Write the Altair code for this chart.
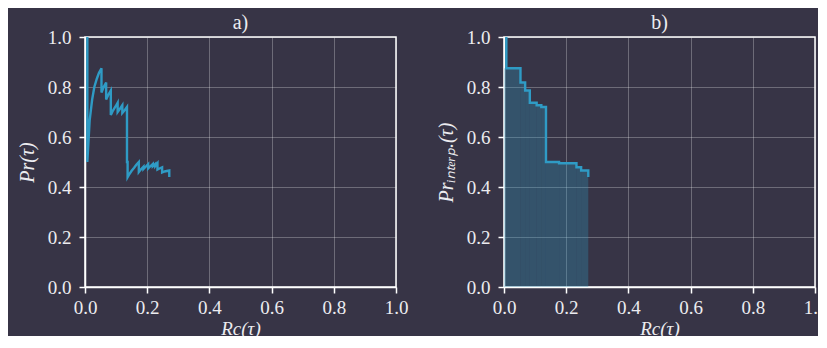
import altair as alt
import pandas as pd

# Raw precision/recall curve (panel a)
recall_raw = [0.0075, 0.0075, 0.015, 0.023, 0.030, 0.038, 0.045, 0.053, 0.053, 0.060,
              0.068, 0.068, 0.075, 0.083, 0.083, 0.083, 0.090, 0.098, 0.105, 0.105,
              0.113, 0.120, 0.120, 0.128, 0.135, 0.135, 0.137, 0.137, 0.143, 0.150,
              0.158, 0.165, 0.173, 0.173, 0.180, 0.188, 0.188, 0.195, 0.203, 0.203,
              0.210, 0.218, 0.218, 0.226, 0.226, 0.233, 0.233, 0.241, 0.248, 0.248,
              0.256, 0.263, 0.271, 0.271]
precision_raw = [1.000, 0.500, 0.667, 0.750, 0.800, 0.833, 0.857, 0.875, 0.778, 0.800,
                 0.818, 0.750, 0.769, 0.786, 0.733, 0.688, 0.706, 0.722, 0.737, 0.700,
                 0.714, 0.727, 0.696, 0.708, 0.720, 0.500, 0.500, 0.439, 0.452, 0.465,
                 0.477, 0.489, 0.500, 0.460, 0.471, 0.481, 0.472, 0.481, 0.491, 0.474,
                 0.483, 0.492, 0.483, 0.492, 0.484, 0.495, 0.470, 0.475, 0.479, 0.458,
                 0.462, 0.464, 0.466, 0.440]

# Interpolated precision (panel b)
recall_interp = [0.0075, 0.0075, 0.053, 0.053, 0.068, 0.068, 0.083, 0.083, 0.105, 0.105,
                 0.120, 0.120, 0.135, 0.135, 0.177, 0.177, 0.233, 0.233, 0.248, 0.248,
                 0.271, 0.271]
precision_interp = [1.000, 0.875, 0.875, 0.818, 0.818, 0.786, 0.786, 0.737, 0.737, 0.727,
                    0.727, 0.720, 0.720, 0.500, 0.500, 0.495, 0.495, 0.479, 0.479, 0.466,
                    0.466, 0.440]

ticks = [0.0, 0.2, 0.4, 0.6, 0.8, 1.0]

BG = "#373446"
LINE = "#2f9bc5"
FONT = "Liberation Serif"
TXT = "#ececf0"

df_a = pd.DataFrame({"rc": recall_raw, "pr": precision_raw, "i": range(len(recall_raw))})
df_b = pd.DataFrame({"rc": recall_interp, "pr": precision_interp,
                     "i": range(len(recall_interp))})

# filled region under the interpolated curve: one block per horizontal step
steps = []
for k in range(len(recall_interp) - 1):
    if precision_interp[k] == precision_interp[k + 1] and recall_interp[k + 1] > recall_interp[k]:
        steps.append({"x0": recall_interp[k], "x1": recall_interp[k + 1],
                      "p": precision_interp[k]})
steps[0]["x0"] = 0.0
df_fill = pd.DataFrame(steps)

def axis(title, orient):
    if orient == "x":
        pad, tpad, tsize = 5, 2, 19
    else:
        pad, tpad, tsize = 8, 10, 20
    return alt.Axis(values=ticks, format=".1f", title=title, grid=True,
                    gridColor="#ffffff", gridOpacity=0.35, gridWidth=0.8,
                    domainColor="#ffffff", domainWidth=1.5, tickColor="#ffffff",
                    tickWidth=1.5, tickSize=6, labelColor=TXT, labelFont=FONT,
                    labelFontSize=19, labelPadding=pad, titleColor=TXT,
                    titleFont=FONT, titleFontSize=tsize, titleFontStyle="italic",
                    titleFontWeight="normal", titlePadding=tpad, labelFlush=False)

xs = alt.Scale(domain=[0, 1], nice=False)
ys = alt.Scale(domain=[0, 1], nice=False)

def title(t):
    return alt.TitleParams(t, font=FONT, fontSize=20, color=TXT,
                           fontWeight="normal", offset=-5)

panel_a = alt.Chart(df_a).mark_line(color=LINE, strokeWidth=2.4).encode(
    x=alt.X("rc:Q", scale=xs, axis=axis("Rc(τ)", "x")),
    y=alt.Y("pr:Q", scale=ys, axis=axis("Pr(τ)", "y")),
    order="i:Q",
).properties(width=311, height=250, title=title("a)"))

fill_b = alt.Chart(df_fill).mark_rect(color=LINE, opacity=0.3, strokeWidth=0).encode(
    x=alt.X("x0:Q", scale=xs, axis=axis("Rc(τ)", "x")),
    x2="x1:Q",
    y=alt.Y("p:Q", scale=ys, axis=axis("Prᵢₙₜₑᵣₚ.(τ)", "y")),
    y2=alt.Y2(datum=0),
)
line_b = alt.Chart(df_b).mark_line(color=LINE, strokeWidth=2.4).encode(
    x=alt.X("rc:Q", scale=xs),
    y=alt.Y("pr:Q", scale=ys),
    order="i:Q",
)
panel_b = alt.layer(fill_b, line_b).properties(width=311, height=250, title=title("b)"))

chart = alt.hconcat(panel_a, panel_b, spacing=108, bounds="flush").configure(
    background=BG,
    padding={"left": 8, "top": 4, "right": -10, "bottom": -3},
).configure_view(stroke="#ffffff", strokeWidth=1.5, fill=BG)

chart.save("out.html", embed_options={"renderer": "svg", "actions": False})
